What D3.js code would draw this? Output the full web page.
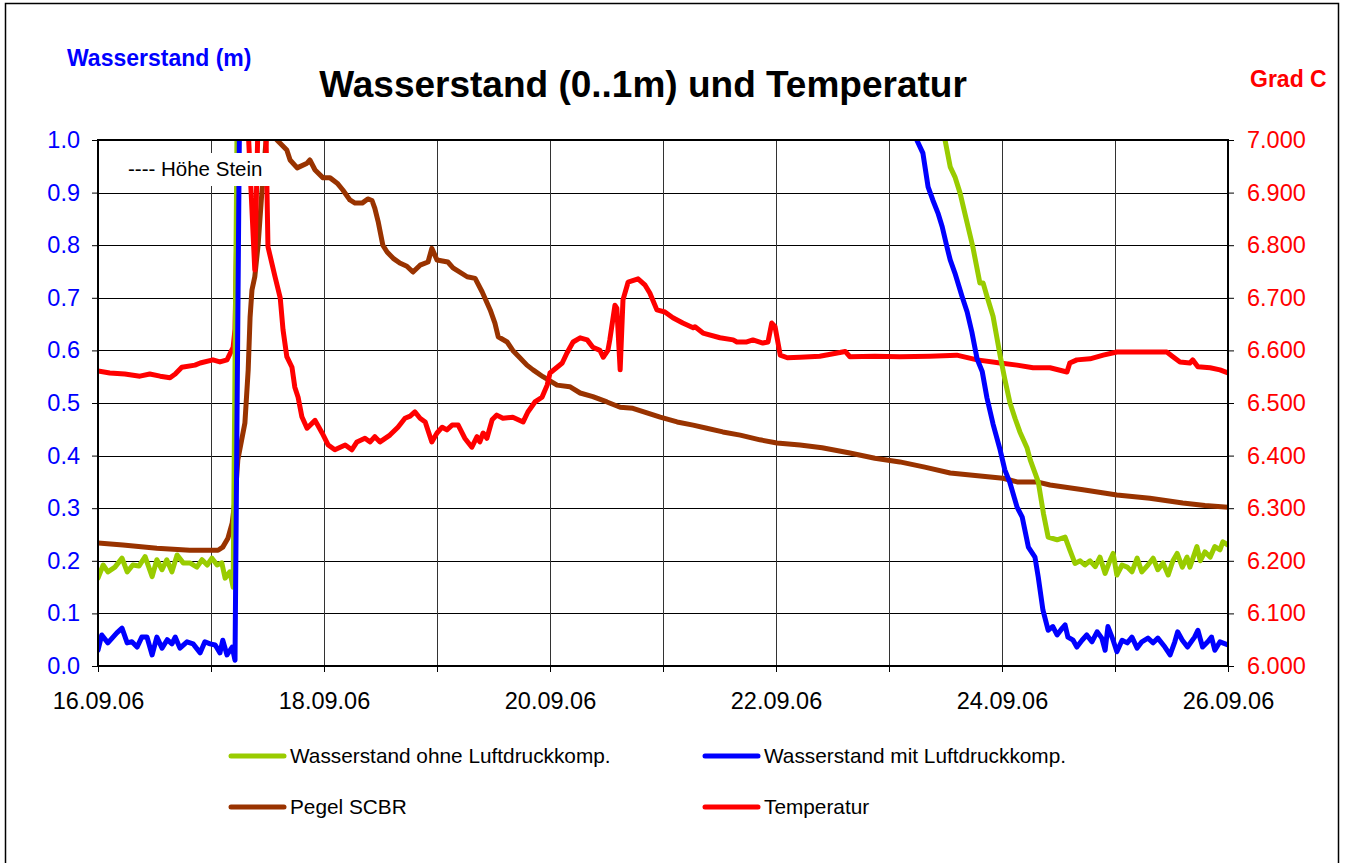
<!DOCTYPE html>
<html>
<head>
<meta charset="utf-8">
<script src="https://cdn.jsdelivr.net/npm/d3@7"></script>
<style>
  body { margin: 0; background: #fff; }
  svg { font-family: Arial, 'Liberation Sans', sans-serif; }
</style>
</head>
<body>
<svg id="chart" width="1345" height="863"></svg>
<script>
// Messwerte: [Stunden ab 16.09.06 00:00, Wert]
var ohneKomp = [
  [0, 0.167], [1.1, 0.192], [2.1, 0.179], [3.6, 0.188], [5.1, 0.205], [6.2, 0.179], [7.4, 0.192],
  [8.7, 0.19], [10, 0.208], [11.5, 0.17], [12.5, 0.202], [13.6, 0.183], [14.6, 0.202], [15.7, 0.179],
  [16.8, 0.211], [18.1, 0.196], [19.5, 0.196], [21, 0.188], [22.1, 0.202], [23.2, 0.192], [24.2, 0.205],
  [25.3, 0.192], [26.3, 0.196], [27, 0.167], [28, 0.179], [28.7, 0.15], [29.7, 1.2],
  [178.8, 1.1], [179.9, 1.0], [181, 0.949], [182, 0.93], [183.1, 0.899], [184.1, 0.861], [185.8, 0.797],
  [187.3, 0.728], [188, 0.728], [188.8, 0.703], [190.1, 0.665], [191.6, 0.59], [192.6, 0.545],
  [193.7, 0.5], [194.8, 0.47], [195.8, 0.445], [197.3, 0.415], [198, 0.392], [199.7, 0.35],
  [200.8, 0.29], [201.8, 0.245], [203.7, 0.24], [205.4, 0.245], [206.4, 0.221], [207.5, 0.195],
  [208.6, 0.2], [209.6, 0.192], [210.7, 0.2], [211.8, 0.189], [212.8, 0.207], [213.9, 0.176],
  [214.9, 0.2], [215.6, 0.214], [216.4, 0.173], [217.5, 0.192], [218.6, 0.188], [219.6, 0.179],
  [220.7, 0.205], [221.7, 0.179], [223, 0.192], [224.1, 0.205], [225.1, 0.183], [226.2, 0.196],
  [227.3, 0.173], [228.3, 0.2], [229.2, 0.214], [230.3, 0.188], [231.3, 0.207], [231.9, 0.188],
  [233.4, 0.227], [234.1, 0.2], [235.1, 0.217], [236.2, 0.207], [237.2, 0.227], [238.3, 0.221],
  [238.9, 0.236], [240, 0.23]
]

var mitKomp = [
  [0, 0.03], [0.8, 0.059], [2.1, 0.044], [4, 0.063], [5.1, 0.072], [6.2, 0.044], [7.2, 0.046],
  [8.3, 0.036], [9.3, 0.055], [10.4, 0.055], [11.5, 0.021], [12.5, 0.055], [13.6, 0.034], [14.7, 0.05],
  [15.7, 0.042], [16.4, 0.055], [17.4, 0.034], [18.9, 0.046], [20.2, 0.042], [21.7, 0.025],
  [22.7, 0.046], [23.8, 0.042], [24.9, 0.04], [25.9, 0.025], [26.5, 0.049], [27.4, 0.021],
  [28.5, 0.036], [29.1, 0.011], [30.2, 1.2],
  [172.9, 1.1], [173.9, 1.0], [175.2, 0.975], [176.3, 0.911], [177.3, 0.886], [178.4, 0.861],
  [179.3, 0.835], [180.3, 0.797], [181, 0.772], [182, 0.747], [183.5, 0.703], [184.6, 0.673],
  [185.6, 0.635], [186.7, 0.584], [187.8, 0.56], [188.8, 0.51], [190.1, 0.46], [191.6, 0.411],
  [192.6, 0.373], [193.7, 0.348], [195.2, 0.302], [196.3, 0.283], [197.6, 0.226], [199, 0.207],
  [199.7, 0.169], [200.7, 0.106], [201.8, 0.068], [202.8, 0.075], [203.7, 0.059], [204.8, 0.072],
  [205.4, 0.078], [206, 0.055], [207.1, 0.049], [207.9, 0.036], [209, 0.049], [210, 0.059],
  [211.1, 0.046], [212.2, 0.065], [213.2, 0.053], [213.9, 0.03], [214.5, 0.075], [215.6, 0.049],
  [216.4, 0.027], [217.5, 0.049], [218.6, 0.044], [219.6, 0.055], [220.7, 0.034], [221.7, 0.046],
  [223, 0.053], [224.1, 0.044], [225.1, 0.053], [226.6, 0.036], [227.7, 0.021], [228.7, 0.046],
  [229.3, 0.065], [230.3, 0.049], [231.4, 0.036], [232.9, 0.055], [233.6, 0.068], [234.6, 0.036],
  [235.7, 0.046], [236.5, 0.055], [237.2, 0.03], [238.3, 0.046], [240, 0.04]
]

var pegelSCBR = [
  [0, 0.234], [5.3, 0.23], [12.5, 0.224], [19.5, 0.22], [25.5, 0.22], [26.5, 0.226], [27.6, 0.243],
  [28.5, 0.272], [29.1, 0.316], [29.7, 0.392], [31.2, 0.462], [31.9, 0.563], [32.3, 0.663],
  [32.7, 0.715], [33.3, 0.74], [34, 0.8], [34.8, 0.9], [35.7, 1.0], [36.5, 1.03], [37.4, 1.01],
  [38, 1.0], [40.1, 0.981], [40.8, 0.962], [42.3, 0.947], [44.4, 0.956], [45, 0.962], [46.1, 0.943],
  [47.8, 0.928], [49.3, 0.928], [50.8, 0.918], [52, 0.905], [53.5, 0.886], [54.6, 0.88], [56.1, 0.88],
  [57.3, 0.888], [58.2, 0.885], [58.8, 0.87], [59.5, 0.845], [60.5, 0.8], [61.4, 0.787], [62.7, 0.775],
  [64.1, 0.766], [65.6, 0.76], [66.9, 0.749], [68.4, 0.762], [70.1, 0.768], [70.9, 0.794], [72, 0.772],
  [74.3, 0.768], [75.4, 0.757], [78.4, 0.74], [80.1, 0.737], [81.6, 0.711], [83.3, 0.677],
  [84.3, 0.652], [85, 0.626], [86.9, 0.616], [88.1, 0.6], [89.6, 0.586], [91.1, 0.572], [92.4, 0.563],
  [94.5, 0.55], [97.5, 0.534], [100.2, 0.531], [102.4, 0.519], [105.1, 0.512], [108.1, 0.502],
  [110.9, 0.492], [113.6, 0.49], [116.6, 0.481], [119.4, 0.473], [123, 0.464], [126.4, 0.458],
  [129.3, 0.452], [132.7, 0.445], [136.4, 0.439], [140.6, 0.43], [144.2, 0.424], [149.1, 0.42],
  [153.8, 0.415], [159.7, 0.405], [165, 0.395], [170.3, 0.388], [175.6, 0.378], [181, 0.367],
  [186.3, 0.362], [192.2, 0.357], [195.2, 0.35], [199.4, 0.35], [202.2, 0.344], [209.2, 0.335],
  [216.4, 0.325], [223.4, 0.319], [230.4, 0.31], [235.1, 0.305], [240, 0.302]
]

var temperatur = [
  [0, 6.561], [2.5, 6.557], [5.7, 6.555], [8.9, 6.551], [11, 6.555], [13.2, 6.551], [15.3, 6.548],
  [16.4, 6.555], [17.8, 6.568], [20.6, 6.572], [21.7, 6.576], [24.4, 6.582], [25.9, 6.578],
  [27.4, 6.582], [28.7, 6.606], [29.1, 6.64], [29.5, 6.83], [29.9, 7.3], [31.4, 7.3], [32, 7.0],
  [33.3, 6.753], [33.9, 7.0], [34.6, 7.3], [35.3, 7.3], [35.7, 7.0], [36.1, 6.797], [37.6, 6.74],
  [38.7, 6.7], [39.3, 6.639], [40.1, 6.588], [41.2, 6.568], [41.8, 6.53], [42.5, 6.511], [43.3, 6.474],
  [44.4, 6.452], [46.1, 6.467], [47.6, 6.443], [48.9, 6.42], [50.3, 6.411], [52.5, 6.42], [53.9, 6.411],
  [55, 6.426], [56.7, 6.433], [57.8, 6.426], [58.8, 6.436], [59.9, 6.426], [62, 6.439], [63.7, 6.454],
  [65.2, 6.471], [66.3, 6.475], [67.3, 6.483], [68.4, 6.471], [69.5, 6.464], [70.9, 6.426], [72, 6.443],
  [73.1, 6.454], [74.1, 6.449], [75.2, 6.458], [76.5, 6.458], [77.9, 6.433], [79.4, 6.416],
  [80.5, 6.436], [81.1, 6.426], [81.8, 6.443], [82.6, 6.433], [83.7, 6.468], [84.7, 6.477], [86, 6.471],
  [88.1, 6.473], [90.3, 6.464], [91.3, 6.483], [92.8, 6.502], [94.3, 6.511], [95.4, 6.534], [96, 6.557],
  [97.5, 6.568], [98.6, 6.576], [99.6, 6.595], [100.9, 6.616], [102.4, 6.624], [103.9, 6.62],
  [105.1, 6.606], [106.6, 6.6], [107.3, 6.587], [108.3, 6.6], [108.7, 6.62], [109.8, 6.686],
  [110.2, 6.68], [110.9, 6.563], [111.5, 6.696], [112.6, 6.73], [114.7, 6.736], [116.2, 6.724],
  [117.2, 6.709], [118.7, 6.677], [120.4, 6.673], [122.1, 6.662], [124.2, 6.652], [126.4, 6.643],
  [126.8, 6.645], [128.5, 6.633], [132.1, 6.624], [134.9, 6.62], [135.7, 6.616], [137.8, 6.616],
  [139.1, 6.62], [141.2, 6.614], [142.3, 6.616], [143.1, 6.652], [143.8, 6.645], [144.9, 6.591],
  [146.4, 6.586], [149.1, 6.587], [153.3, 6.589], [158.7, 6.598], [159.7, 6.588], [165, 6.589],
  [170.3, 6.588], [176.7, 6.589], [182.4, 6.591], [186.7, 6.582], [191.6, 6.576], [195.2, 6.572],
  [198.6, 6.567], [202.2, 6.567], [205.8, 6.559], [206.4, 6.576], [207.9, 6.582], [210.7, 6.584],
  [213.5, 6.591], [216.4, 6.597], [219.8, 6.597], [223.4, 6.597], [227, 6.597], [228.3, 6.588],
  [229.8, 6.578], [231.9, 6.576], [232.5, 6.582], [233.6, 6.569], [236.2, 6.567], [238.3, 6.563],
  [240, 6.557]
]

var seriesNames = ['Wasserstand ohne Luftdruckkomp.', 'Wasserstand mit Luftdruckkomp.', 'Pegel SCBR', 'Temperatur']
var leftTicks = [0, 0.1, 0.2, 0.3, 0.4, 0.5, 0.6, 0.7, 0.8, 0.9, 1.0]
var rightTicks = [6.0, 6.1, 6.2, 6.3, 6.4, 6.5, 6.6, 6.7, 6.8, 6.9, 7.0]

var colors = ['#99cc00', '#0000ff', '#993300', '#ff0000']

var start = new Date(2006, 8, 16)
var end = new Date(2006, 8, 26)

var plot = {left: 98, right: 1228, top: 140, bottom: 666}

var x = d3.scaleTime().domain([start, end]).range([plot.left, plot.right])
var yLeft = d3.scaleLinear().domain([0, 1]).range([plot.bottom, plot.top])
var yRight = d3.scaleLinear().domain([6, 7]).range([plot.bottom, plot.top])

function hourToDate (h) {
  return d3.timeMinute.offset(start, Math.round(h * 60))
}

var svg = d3.select('#chart')

// aeusserer Rahmen
svg.append('rect')
  .attr('x', 5.5)
  .attr('y', 3.5)
  .attr('width', 1333)
  .attr('height', 900)
  .attr('fill', '#fff')
  .attr('stroke', '#000')
  .attr('stroke-width', 1.5)

svg.append('defs').append('clipPath')
    .attr('id', 'plotclip')
  .append('rect')
    .attr('x', plot.left)
    .attr('y', plot.top)
    .attr('width', plot.right - plot.left)
    .attr('height', plot.bottom - plot.top)

// Gitter
var days = d3.timeDay.range(start, d3.timeDay.offset(end, 1))

svg.append('g').selectAll('line')
  .data(leftTicks)
  .enter().append('line')
    .attr('x1', plot.left)
    .attr('x2', plot.right)
    .attr('y1', function (d) { return Math.round(yLeft(d)) + 0.5 })
    .attr('y2', function (d) { return Math.round(yLeft(d)) + 0.5 })
    .attr('stroke', '#000')
    .attr('stroke-width', 1)

svg.append('g').selectAll('line')
  .data(days)
  .enter().append('line')
    .attr('x1', function (d) { return Math.round(x(d)) + 0.5 })
    .attr('x2', function (d) { return Math.round(x(d)) + 0.5 })
    .attr('y1', plot.top)
    .attr('y2', plot.bottom)
    .attr('stroke', '#333')
    .attr('stroke-width', 1)

// Achsen
var leftAxis = d3.axisLeft(yLeft)
  .tickValues(leftTicks)
  .tickFormat(d3.format('.1f'))
  .tickSize(6)
  .tickPadding(12)

var rightAxis = d3.axisRight(yRight)
  .tickValues(rightTicks)
  .tickFormat(d3.format('.3f'))
  .tickSize(6)
  .tickPadding(13)

var bottomAxis = d3.axisBottom(x)
  .tickValues(days)
  .tickFormat(function (d, i) {
    return i % 2 === 0 ? d3.timeFormat('%d.%m.%y')(d) : ''
  })
  .tickSize(6)
  .tickPadding(20)

function styleAxis (g, color) {
  g.select('.domain').remove()
  g.selectAll('.tick line').attr('stroke', '#000')
  g.selectAll('.tick text')
    .attr('fill', color)
    .style('font-size', '23.5px')
    .style('font-family', 'Arial, "Liberation Sans", sans-serif')
}

svg.append('g')
  .attr('transform', 'translate(' + plot.left + ',0)')
  .call(leftAxis)
  .call(styleAxis, '#0000ff')

svg.append('g')
  .attr('transform', 'translate(' + plot.right + ',0)')
  .call(rightAxis)
  .call(styleAxis, '#ff0000')

svg.append('g')
  .attr('transform', 'translate(0,' + plot.bottom + ')')
  .call(bottomAxis)
  .call(styleAxis, '#000')

// Linien
var lineLeft = d3.line()
  .x(function (d) { return x(hourToDate(d[0])) })
  .y(function (d) { return yLeft(d[1]) })

var lineRight = d3.line()
  .x(function (d) { return x(hourToDate(d[0])) })
  .y(function (d) { return yRight(d[1]) })

var lines = svg.append('g').attr('clip-path', 'url(#plotclip)')

var drawOrder = [
  {data: pegelSCBR, line: lineLeft, color: colors[2]},
  {data: temperatur, line: lineRight, color: colors[3]},
  {data: ohneKomp, line: lineLeft, color: colors[0]},
  {data: mitKomp, line: lineLeft, color: colors[1]}
]

lines.selectAll('path')
  .data(drawOrder)
  .enter().append('path')
    .attr('d', function (d) { return d.line(d.data) })
    .attr('fill', 'none')
    .attr('stroke', function (d) { return d.color })
    .attr('stroke-width', 5)
    .attr('stroke-linejoin', 'round')
    .attr('stroke-linecap', 'round')

// Textfeld Hoehe Stein
svg.append('rect')
  .attr('x', 120)
  .attr('y', 153)
  .attr('width', 150)
  .attr('height', 33)
  .attr('fill', '#fff')

svg.append('text')
  .attr('x', 128)
  .attr('y', 176)
  .style('font-size', '20.5px')
  .text('---- Höhe Stein')

// Rahmen Zeichnungsflaeche
svg.append('rect')
  .attr('x', plot.left)
  .attr('y', plot.top)
  .attr('width', plot.right - plot.left)
  .attr('height', plot.bottom - plot.top)
  .attr('fill', 'none')
  .attr('stroke', '#000')
  .attr('stroke-width', 2)

// Titel
svg.append('text')
  .attr('x', 643)
  .attr('y', 97)
  .attr('text-anchor', 'middle')
  .style('font-size', '37px')
  .style('font-weight', 'bold')
  .text('Wasserstand (0..1m) und Temperatur')

svg.append('text')
  .attr('x', 67)
  .attr('y', 66)
  .attr('fill', '#0000ff')
  .style('font-size', '23px')
  .style('font-weight', 'bold')
  .text('Wasserstand (m)')

svg.append('text')
  .attr('x', 1250)
  .attr('y', 87)
  .attr('fill', '#ff0000')
  .style('font-size', '23px')
  .style('font-weight', 'bold')
  .text('Grad C')

// Legende
var legendPos = [[229, 756], [703, 756], [229, 807], [703, 807]]

var legend = svg.append('g').selectAll('g')
  .data(seriesNames)
  .enter().append('g')
    .attr('transform', function (d, i) {
      return 'translate(' + legendPos[i][0] + ',' + legendPos[i][1] + ')'
    })

legend.append('line')
  .attr('x1', 2)
  .attr('x2', 55)
  .attr('stroke', function (d, i) { return colors[i] })
  .attr('stroke-width', 5)
  .attr('stroke-linecap', 'round')

legend.append('text')
  .attr('x', 61)
  .attr('dy', '0.35em')
  .style('font-size', '20.8px')
  .text(function (d) { return d })
</script>
</body>
</html>
